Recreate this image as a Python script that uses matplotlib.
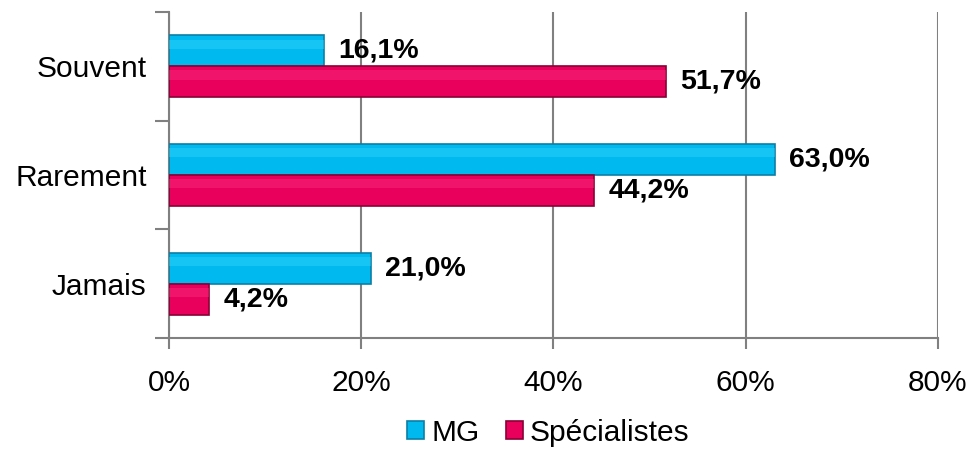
import numpy as np
import matplotlib as mpl
mpl.use('Agg')
import matplotlib.pyplot as plt

categories = ['Souvent', 'Rarement', 'Jamais']
mg = [16.1, 63.0, 21.0]
specialistes = [51.7, 44.2, 4.2]
series_names = ['MG', 'Spécialistes']
xticks = [0, 20, 40, 60, 80]


def fmt(v):
    return ('%.1f%%' % v).replace('.', ',')


def generateFigure():
    mpl.rcParams['font.family'] = ['Liberation Sans', 'DejaVu Sans']
    fig = plt.figure(figsize=(9.69, 4.5), dpi=100)
    ax = fig.add_axes([0.1744, 0.249, 0.7936, 0.724])

    y = np.arange(len(categories))[::-1].astype(float)
    h = 0.285
    cyan, cyan_e = '#00B9EF', '#0A7FA6'
    pink, pink_e = '#E8005C', '#8A0035'

    ax.barh(y + h / 2, mg, height=h, color=cyan, edgecolor=cyan_e, linewidth=1.2, zorder=3, label=series_names[0])
    ax.barh(y - h / 2, specialistes, height=h, color=pink, edgecolor=pink_e, linewidth=1.2, zorder=3, label=series_names[1])
    # soft highlight for the glossy look
    ax.barh(y + h / 2 + h * 0.22, mg, height=h * 0.3, color='#40DDFF', linewidth=0, zorder=4, alpha=0.35)
    ax.barh(y - h / 2 + h * 0.22, specialistes, height=h * 0.3, color='#FF3D85', linewidth=0, zorder=4, alpha=0.35)

    for yy, v in zip(y, mg):
        ax.text(v + 1.5, yy + h / 2, fmt(v), va='center', ha='left', fontsize=20.5, fontweight='bold', zorder=5)
    for yy, v in zip(y, specialistes):
        ax.text(v + 1.5, yy - h / 2, fmt(v), va='center', ha='left', fontsize=20.5, fontweight='bold', zorder=5)

    ax.set_xlim(0, 80)
    ax.set_ylim(-0.5, len(categories) - 0.5)
    ax.set_xticks(xticks)
    ax.set_xticklabels(['%d%%' % t for t in xticks], fontsize=21.5)
    ax.set_yticks(y)
    ax.set_yticklabels(categories, fontsize=21.5)
    ax.set_yticks(np.arange(-0.5, len(categories)), minor=True)
    ax.tick_params(axis='y', which='major', length=0, pad=16)
    ax.tick_params(axis='y', which='minor', length=10, color='#808080', width=1.5)
    ax.tick_params(axis='x', length=8, color='#808080', width=1.5, pad=14)

    ax.grid(axis='x', color='#808080', linewidth=1.5, zorder=0)
    for s in ['top', 'right']:
        ax.spines[s].set_visible(False)
    for s in ['left', 'bottom']:
        ax.spines[s].set_color('#808080')
        ax.spines[s].set_linewidth(1.5)

    fig.legend(loc='lower center', bbox_to_anchor=(0.566, -0.052), ncol=2, frameon=False,
               fontsize=21.5, handlelength=0.55, handleheight=0.55, handletextpad=0.25, columnspacing=0.9)

    plt.savefig('out.png', dpi=100)


def main():
    generateFigure()


main()
